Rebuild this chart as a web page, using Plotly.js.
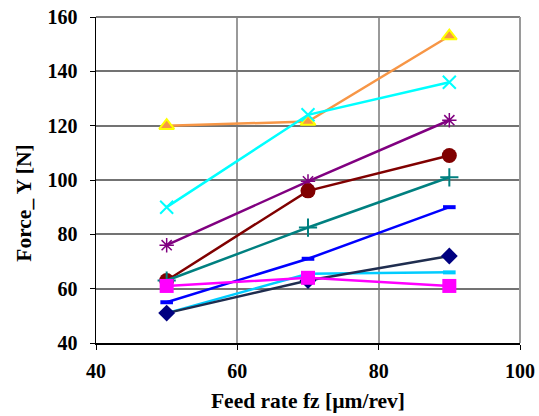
<!DOCTYPE html>
<html>
<head>
<meta charset="utf-8">
<script src="https://cdn.plot.ly/plotly-3.0.1.min.js"></script>
<style>html,body{margin:0;padding:0;background:#fff;}#chart{width:539px;height:416px;}</style>
</head>
<body>
<div id="chart"></div>
<script>
const feedRate = [50, 70, 90];
const sOrange = [120, 121.5, 153];
const sCyan = [90, 124, 136];
const sPurple = [76, 99.5, 122];
const sDarkRed = [63, 96, 109];
const sTeal = [63, 82.5, 101];
const sBlue = [55, 71, 90];
const sLightBlue = [51, 65.5, 66];
const sNavy = [51, 63, 72];
const sMagenta = [61, 64, 61];
const xTicks = [40, 60, 80, 100];
const yTicks = [40, 60, 80, 100, 120, 140, 160];
const xTitle = 'Feed rate fz [µm/rev]';
const yTitle = 'Force_ Y [N]';

function tr(y, color, symbol, size, mline, mcolor, mlw) {
  return {
    x: feedRate, y: y, type: 'scatter', mode: 'lines+markers',
    line: {color: color, width: 2.5},
    marker: {symbol: symbol, size: size, color: mcolor || color,
             line: {color: mline || color, width: mlw === undefined ? 2 : mlw}},
    showlegend: false, hoverinfo: 'skip'
  };
}

const data = [
  tr(sOrange, '#F79646', 'triangle-up', 13, '#FFFF00', '#F79646', 2),
  tr(sCyan, '#00FFFF', 'x-thin-open', 13, '#00FFFF', null, 2),
  tr(sPurple, '#800080', 'asterisk-open', 12, '#800080', null, 1.5),
  tr(sDarkRed, '#800000', 'circle', 15, '#800000', '#800000', 0),
  tr(sTeal, '#008080', 'cross-thin-open', 13, '#008080', null, 2),
  tr(sBlue, '#0000FF', 'line-ew-open', 9, '#0000FF', null, 4),
  tr(sLightBlue, '#00CCFF', 'line-ew-open', 9, '#00CCFF', null, 4),
  tr(sNavy, '#1F2D4F', 'diamond', 13, '#000080', '#000080', 0),
  tr(sMagenta, '#FF00FF', 'square', 14, '#FF00FF', '#FF00FF', 0)
];

function mkFont(sz) {
  return {family: 'Liberation Serif', size: sz, color: '#000000', weight: 700};
}

const layout = {
  width: 539, height: 416,
  margin: {l: 96, r: 19, t: 17, b: 73},
  paper_bgcolor: '#fff', plot_bgcolor: '#fff',
  xaxis: {
    range: [40, 100], tickvals: xTicks,
    showgrid: true, gridcolor: '#9a9a9a', gridwidth: 2,
    showline: true, linecolor: '#000', linewidth: 1.5,
    ticks: 'outside', ticklen: 5, tickcolor: '#000',
    ticklabelstandoff: 4,
    zeroline: false, tickfont: mkFont(20),
    title: {text: xTitle, font: mkFont(21.5), standoff: 12}
  },
  yaxis: {
    range: [40, 160], tickvals: yTicks,
    showgrid: true, gridcolor: '#737373', gridwidth: 2,
    showline: true, linecolor: '#000', linewidth: 1.5,
    ticks: 'outside', ticklen: 5, tickcolor: '#000',
    ticklabelstandoff: 8,
    zeroline: false, tickfont: mkFont(20)
  },
  annotations: [
    {text: yTitle, textangle: -90, xref: 'paper', yref: 'paper',
     x: -0.17, y: 0.43, xanchor: 'center', yanchor: 'middle',
     showarrow: false, font: mkFont(21.5)}
  ],
  shapes: [
    {type: 'line', xref: 'paper', yref: 'paper', x0: 0, x1: 1, y0: 1, y1: 1, line: {color: '#808080', width: 2}},
    {type: 'line', xref: 'paper', yref: 'paper', x0: 1, x1: 1, y0: 0, y1: 1, line: {color: '#9a9a9a', width: 2}}
  ]
};

Plotly.newPlot('chart', data, layout, {displayModeBar: false, staticPlot: true});
</script>
</body>
</html>
